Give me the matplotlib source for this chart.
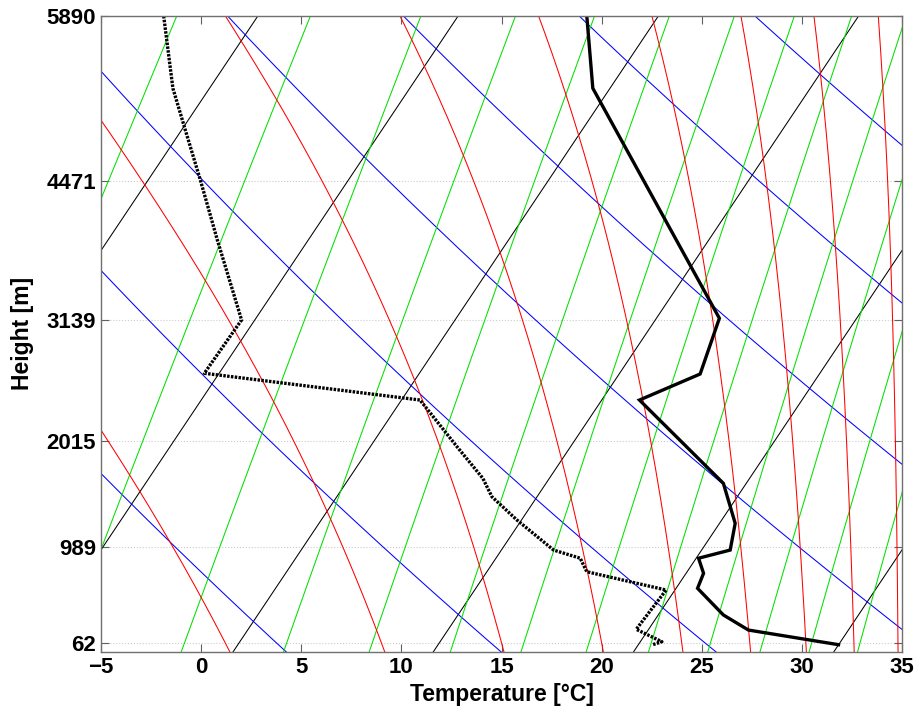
import numpy as np
import matplotlib.pyplot as plt
from matplotlib.ticker import FixedLocator, NullLocator

# sounding: x = value on the Temperature axis, p = pressure level [hPa]
p_temp = [500, 541.6, 698.5, 742.9, 764.6, 838.4, 876.3, 902.6, 910.8, 926.1, 941.6, 969.8, 986.1, 1002.2]
t_temp = [19.26, 19.56, 25.88, 24.92, 21.89, 26.08, 26.67, 26.42, 24.84, 25.09, 24.79, 26.08, 27.33, 31.83]

p_dew = [500, 541.6, 567.2, 599.4, 640.6, 699.8, 742.3, 764.6, 806.5, 833.8, 850.9, 873.1,
         902.6, 910.8, 924.5, 943.4, 985.3, 998.9, 1002.5]
t_dew = [-1.87, -1.41, -0.79, -0.04, 0.81, 2.02, 0.16, 10.93, 12.84, 14.07, 14.52, 15.77,
         17.60, 18.93, 19.26, 23.22, 21.73, 23.01, 22.51]

# background lines of the diagram
isotherms = [-18.1, -8.1, 1.9, 11.9, 21.9, 31.9]                  # deg C
dry_theta = [276.9, 287.6, 298.3, 309.0, 319.7, 330.4, 341.1]      # K
moist_t1000 = [1.2, 9.0, 15.0, 20.0, 24.0, 27.4, 30.2, 32.6, 34.8]  # deg C at 1000 hPa
mix_ratio = [1.3, 2.3, 3.6, 5.2, 7.0, 9.2, 11.6, 14.3, 17.4, 20.9, 24.5, 28.4, 32.8]  # g/kg

p_levels = [1000, 900, 800, 700, 600, 500]
height_labels = ['62', '989', '2015', '3139', '4471', '5890']

SKEW = 30.2
LATENT = 0.84   # the red curves on the original cool a bit faster than a true pseudo-adiabat
Rd, Cp, Lv, EPS = 287.04, 1005.7, 2.501e6, 0.622


def skew(t, p):
    return t + SKEW * np.log(1000.0 / p)


def es(tc):
    return 6.112 * np.exp(17.67 * tc / (tc + 243.5))


def moist_rate(tk, p):
    # dT/dlnp along a saturated adiabat
    e = es(tk - 273.15)
    rs = LATENT * EPS * e / (p - e)
    return (Rd * tk + Lv * rs) / (Cp + Lv * Lv * rs * EPS / (Rd * tk * tk))


def moist_adiabat(t0, p_end, n=200):
    lnp = np.linspace(np.log(1000.0), np.log(p_end), n)
    h = lnp[1] - lnp[0]
    tk = [t0 + 273.15]
    for lp in lnp[:-1]:
        T = tk[-1]
        k1 = moist_rate(T, np.exp(lp))
        k2 = moist_rate(T + h * k1 / 2, np.exp(lp + h / 2))
        k3 = moist_rate(T + h * k2 / 2, np.exp(lp + h / 2))
        k4 = moist_rate(T + h * k3, np.exp(lp + h))
        tk.append(T + h * (k1 + 2 * k2 + 2 * k3 + k4) / 6)
    return np.exp(lnp), np.array(tk) - 273.15


plt.rcParams['font.family'] = ['Liberation Sans', 'DejaVu Sans']
plt.rcParams['font.weight'] = 'bold'

fig = plt.figure(figsize=(9.17, 7.10), dpi=100)
ax = fig.add_axes([101 / 917, 58.3 / 710, 801 / 917, 635.7 / 710])

pp = np.geomspace(1020, 490, 200)
lw_bg = 0.75

for t in isotherms:
    ax.plot(skew(np.full_like(pp, t), pp), pp, color='#000000', lw=lw_bg)

for th in dry_theta:
    ax.plot(skew(th * (pp / 1000.0) ** (Rd / Cp) - 273.15, pp), pp, color='#0000ff', lw=lw_bg)

for w in mix_ratio:
    e = pp * w / 1000.0 / (EPS + w / 1000.0)
    a = np.log(e / 6.112)
    td = 243.5 * a / (17.67 - a)
    ax.plot(skew(td, pp), pp, color='#00e000', lw=lw_bg)

for t0 in moist_t1000:
    p_up, t_up = moist_adiabat(t0, 490)
    p_dn, t_dn = moist_adiabat(t0, 1020, 20)
    pm = np.concatenate([p_dn[::-1], p_up[1:]])
    tm = np.concatenate([t_dn[::-1], t_up[1:]])
    ax.plot(skew(tm, pm), pm, color='#ff0000', lw=lw_bg)

ax.plot(t_dew, p_dew, color='black', lw=2.4, linestyle=(0, (0.75, 0.4)))
ax.plot(t_temp, p_temp, color='black', lw=2.4, solid_joinstyle='miter')

ax.set_yscale('log')
ax.set_ylim(1010, 500)
ax.set_xlim(-5, 35)
ax.yaxis.set_major_locator(FixedLocator(p_levels))
ax.yaxis.set_minor_locator(NullLocator())
ax.set_yticklabels(height_labels)
ax.set_xticks(np.arange(-5, 36, 5))
ax.yaxis.grid(True, linestyle=':', color='#cccccc', lw=0.8)

ax.tick_params(direction='in', length=6, width=0.8, top=True, right=True,
               labelsize=16, color='#606060')
for s in ax.spines.values():
    s.set_color('#707070')
    s.set_linewidth(1.0)

ax.set_xlabel('Temperature [°C]', fontsize=16.5, fontweight='bold', labelpad=4)
ax.set_ylabel('Height [m]', fontsize=16.5, fontweight='bold', labelpad=9)

fig.savefig('out.png', dpi=100)
